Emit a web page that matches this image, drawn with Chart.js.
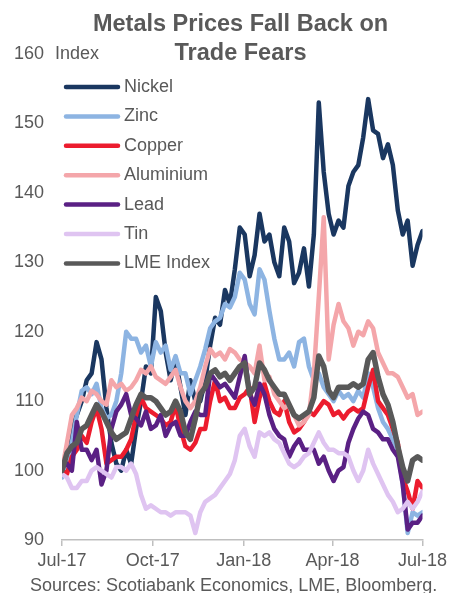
<!DOCTYPE html>
<html>
<head>
<meta charset="utf-8">
<script src="https://cdn.jsdelivr.net/npm/chart.js@4.4.1/dist/chart.umd.min.js"></script>
<style>
  html, body { margin: 0; padding: 0; background: #fff; }
  #wrap { position: relative; width: 451px; height: 593px; overflow: hidden; font-family: "Liberation Sans", Arial, sans-serif; color: #595959; }
  #title { position: absolute; left: 30px; width: 421px; top: 9px; text-align: center; font-weight: bold; font-size: 23.5px; line-height: 29px; }
  #source { position: absolute; left: 30px; top: 576px; font-size: 18px; line-height: 18px; white-space: nowrap; }
  canvas { position: absolute; left: 0; top: 0; }
</style>
</head>
<body>
<div id="wrap">
  <canvas id="metalsChart" width="451" height="593"></canvas>
  <div id="title">Metals Prices Fall Back on<br>Trade Fears</div>
  <div id="source">Sources: Scotiabank Economics, LME, Bloomberg.</div>
</div>
<script>
'use strict';

// days since 1 Jul 2017
const days = [0, 5, 10, 15, 20, 25, 30, 35, 40, 45, 50, 55, 60, 65, 70, 75, 80, 85, 90, 95,
  100, 105, 110, 115, 120, 125, 130, 135, 140, 145, 150, 155, 160, 165, 170, 175, 180, 185, 190, 195,
  200, 205, 210, 215, 220, 225, 230, 235, 240, 245, 250, 255, 260, 265, 270, 275, 280, 285, 290, 295,
  300, 305, 310, 315, 320, 325, 330, 335, 340, 345, 350, 355, 360, 365];

const tickDays = [0, 92, 184, 274, 365];
const tickLabels = ['Jul-17', 'Oct-17', 'Jan-18', 'Apr-18', 'Jul-18'];

const nickel = [100, 101, 106, 108, 110, 113, 114, 118.5, 116, 109,
  104, 101, 100, 103, 101, 106, 110, 115, 114, 125,
  123, 117, 113, 116, 112, 108, 113, 110, 110, 113,
  118, 122, 121, 126, 124, 129, 135, 134, 128, 131,
  137, 133, 134, 130, 128, 135, 133, 127, 128.5, 132,
  126.5, 134, 153, 143, 137, 134, 136, 135, 141, 143,
  144, 148, 153.5, 149, 148.5, 145, 147, 144, 137.5, 134,
  136, 129.5, 132.5, 134.5];

const zinc = [99, 101, 104, 108, 111.5, 112, 111, 112.5, 109, 107.5,
  108, 110, 114, 120, 119, 119, 117, 118, 115, 118.5,
  117, 118, 114.5, 116.5, 114, 114, 111, 113, 115, 117.5,
  120.5, 121.5, 122, 124, 123.5, 125, 128.5, 127.5, 124, 122.5,
  129, 127.5, 123, 119, 116, 116, 117, 115, 118.5, 119,
  115, 113, 114, 112, 111, 110, 111.5, 110.5, 111, 110,
  111.5, 110.5, 114, 112, 109, 107, 106, 104.5, 103, 98,
  91, 94, 93.5, 94];

const copper = [100, 99.5, 102, 103, 105, 104, 107, 109, 106, 101,
  101.5, 102, 102, 103, 104.5, 108, 110.5, 109, 108.5, 108,
  107.5, 106.5, 107, 109.5, 106, 103.5, 103, 104, 106, 106,
  110, 113, 110, 110.5, 109, 109, 110.5, 111, 112, 107,
  110.5, 112.5, 110, 108.5, 108, 110, 107, 105.5, 106, 107,
  108.5, 108, 109, 110, 109.5, 108, 108.5, 107.5, 108.5, 109,
  108.5, 109, 112, 114.5, 110, 109, 108, 106, 104, 99,
  97, 94.5, 98.5, 97.5];

const aluminium = [100, 104, 108, 109, 110.5, 110, 111.5, 111, 110, 109.5,
  113, 112, 112.5, 111.5, 112, 113, 114.5, 114, 115, 113.5,
  113, 112.5, 113.5, 114.5, 112, 110, 109, 110, 112, 115,
  117.5, 116.5, 117, 116, 117.5, 117, 116, 115.5, 115, 114,
  118, 113, 113.5, 111, 110, 109, 109.5, 108, 106.5, 107,
  108, 114, 125, 136.5, 116, 121, 124, 121.5, 120.5, 118,
  120, 119.5, 121.5, 120.5, 117, 115.5, 114, 114, 113.5, 112,
  110.5, 111, 108, 108.5];

const lead = [100.5, 101, 100, 107, 103, 103, 101.5, 103, 98, 100,
  106, 108.5, 109.5, 111, 108, 107.5, 106.5, 108.5, 106, 106.5,
  108, 105, 106.5, 107, 105, 105, 107, 108.5, 108, 108,
  114, 113, 112, 112.5, 111.5, 110.5, 113.5, 116.5, 111, 109.5,
  112.5, 111, 108, 106, 105, 104.5, 102, 103.5, 104.5, 103,
  103, 103, 101, 102, 100, 98.5, 100, 100.5, 104, 106,
  107.5, 108.5, 108, 106, 105.5, 104.5, 104.5, 103, 102, 98,
  91.5, 92.5, 92.5, 93.5];

const tin = [99.5, 99, 97.5, 97.5, 98.5, 98.5, 100, 100.5, 100, 99.5,
  99, 100.5, 100.5, 100, 101, 99.5, 96.5, 94.5, 95, 94.5,
  94, 94, 93.5, 94, 94, 94, 93.5, 91, 94, 95.5,
  96, 96.5, 97.5, 98.5, 99.5, 101.5, 105, 106, 103.5, 102,
  105.5, 105, 105.5, 104.5, 104, 102.5, 101, 100.5, 101, 102,
  102.5, 104, 105.5, 104, 103, 103, 102.5, 102.5, 102, 100,
  98.5, 100, 103, 101, 99.5, 98, 96.5, 95.5, 94, 94.5,
  95.5, 94.5, 95.5, 97];

const lmeIndex = [100, 102.5, 103.5, 104, 106, 106.5, 108, 109.5, 108.5, 107,
  105.5, 104.5, 105, 105.5, 107.5, 109.5, 111, 110.5, 110.5, 110,
  109, 108, 108.5, 110, 108.5, 105.5, 104.5, 107.5, 111, 112,
  114, 114.5, 113.5, 114, 113, 114, 115, 115.5, 111, 112,
  115.5, 114.5, 113, 112, 111, 111, 109.5, 108, 107.5, 108,
  108.5, 110.5, 116.5, 115, 111.5, 110.5, 112, 112, 112, 112.5,
  112, 112.5, 116, 117, 113.5, 111, 109.5, 107, 103.5, 100.5,
  98.5, 101.5, 102, 101.5];

const textColor = '#595959';
const fontFamily = '"Liberation Sans", Arial, sans-serif';

const series = [
  { label: 'Nickel', data: nickel, color: '#1A3760', width: 4.5 },
  { label: 'Zinc', data: zinc, color: '#8DB4E2', width: 4.5 },
  { label: 'Copper', data: copper, color: '#EC1C2E', width: 4.5 },
  { label: 'Aluminium', data: aluminium, color: '#F4A6AA', width: 4.5 },
  { label: 'Lead', data: lead, color: '#5A2084', width: 4.5 },
  { label: 'Tin', data: tin, color: '#DFC4F1', width: 4.5 },
  { label: 'LME Index', data: lmeIndex, color: '#595959', width: 5.5 }
];

// legend drawn inside the plot, plus the "Index" unit label
const insideLegend = {
  id: 'insideLegend',
  afterDraw(chart) {
    const { ctx, chartArea } = chart;
    ctx.save();
    ctx.font = '18px ' + fontFamily;
    ctx.textBaseline = 'middle';
    ctx.textAlign = 'left';
    chart.data.datasets.forEach((ds, i) => {
      const y = chartArea.top + 33 + i * 29.4;
      ctx.strokeStyle = ds.borderColor;
      ctx.lineWidth = 4.5;
      ctx.lineCap = 'round';
      ctx.beginPath();
      ctx.moveTo(chartArea.left + 4, y);
      ctx.lineTo(chartArea.left + 56, y);
      ctx.stroke();
      ctx.fillStyle = textColor;
      ctx.fillText(ds.label, chartArea.left + 62, y);
    });
    const yTop = chart.scales.y.getPixelForValue(160);
    ctx.fillStyle = textColor;
    ctx.fillText('Index', chartArea.left - 7, yTop);
    ctx.restore();
  }
};

document.addEventListener('DOMContentLoaded', function () {
  const ctx = document.getElementById('metalsChart').getContext('2d');

  new Chart(ctx, {
    type: 'line',
    data: {
      datasets: series.map((s, i) => ({
        label: s.label,
        data: days.map((d, j) => ({ x: d, y: s.data[j] })),
        borderColor: s.color,
        backgroundColor: s.color,
        borderWidth: s.width,
        pointRadius: 0,
        tension: 0,
        borderJoinStyle: 'round',
        borderCapStyle: 'round',
        order: series.length - 1 - i
      }))
    },
    options: {
      responsive: false,
      animation: false,
      layout: {
        padding: { top: 54, right: 28, bottom: 0, left: 0 }
      },
      plugins: {
        legend: { display: false },
        tooltip: { enabled: false }
      },
      scales: {
        x: {
          type: 'linear',
          min: 0,
          max: 365,
          afterBuildTicks: function (scale) {
            scale.ticks = tickDays.map(v => ({ value: v }));
          },
          afterFit: function (scale) {
            scale.height = 53;
          },
          ticks: {
            autoSkip: false,
            maxRotation: 0,
            padding: 4,
            color: textColor,
            font: { size: 18, family: fontFamily },
            callback: function (value, index) {
              return tickLabels[index];
            }
          },
          grid: {
            drawOnChartArea: false,
            drawTicks: true,
            tickLength: 6,
            color: '#BFBFBF',
            lineWidth: 1.5
          },
          border: { display: true, color: '#BFBFBF', width: 1.5 }
        },
        y: {
          min: 90,
          max: 160,
          afterFit: function (scale) {
            scale.width = 62;
          },
          ticks: {
            stepSize: 10,
            padding: 18,
            color: textColor,
            font: { size: 18, family: fontFamily }
          },
          grid: { display: false, drawTicks: false },
          border: { display: false }
        }
      }
    },
    plugins: [insideLegend]
  });
});
</script>
</body>
</html>
